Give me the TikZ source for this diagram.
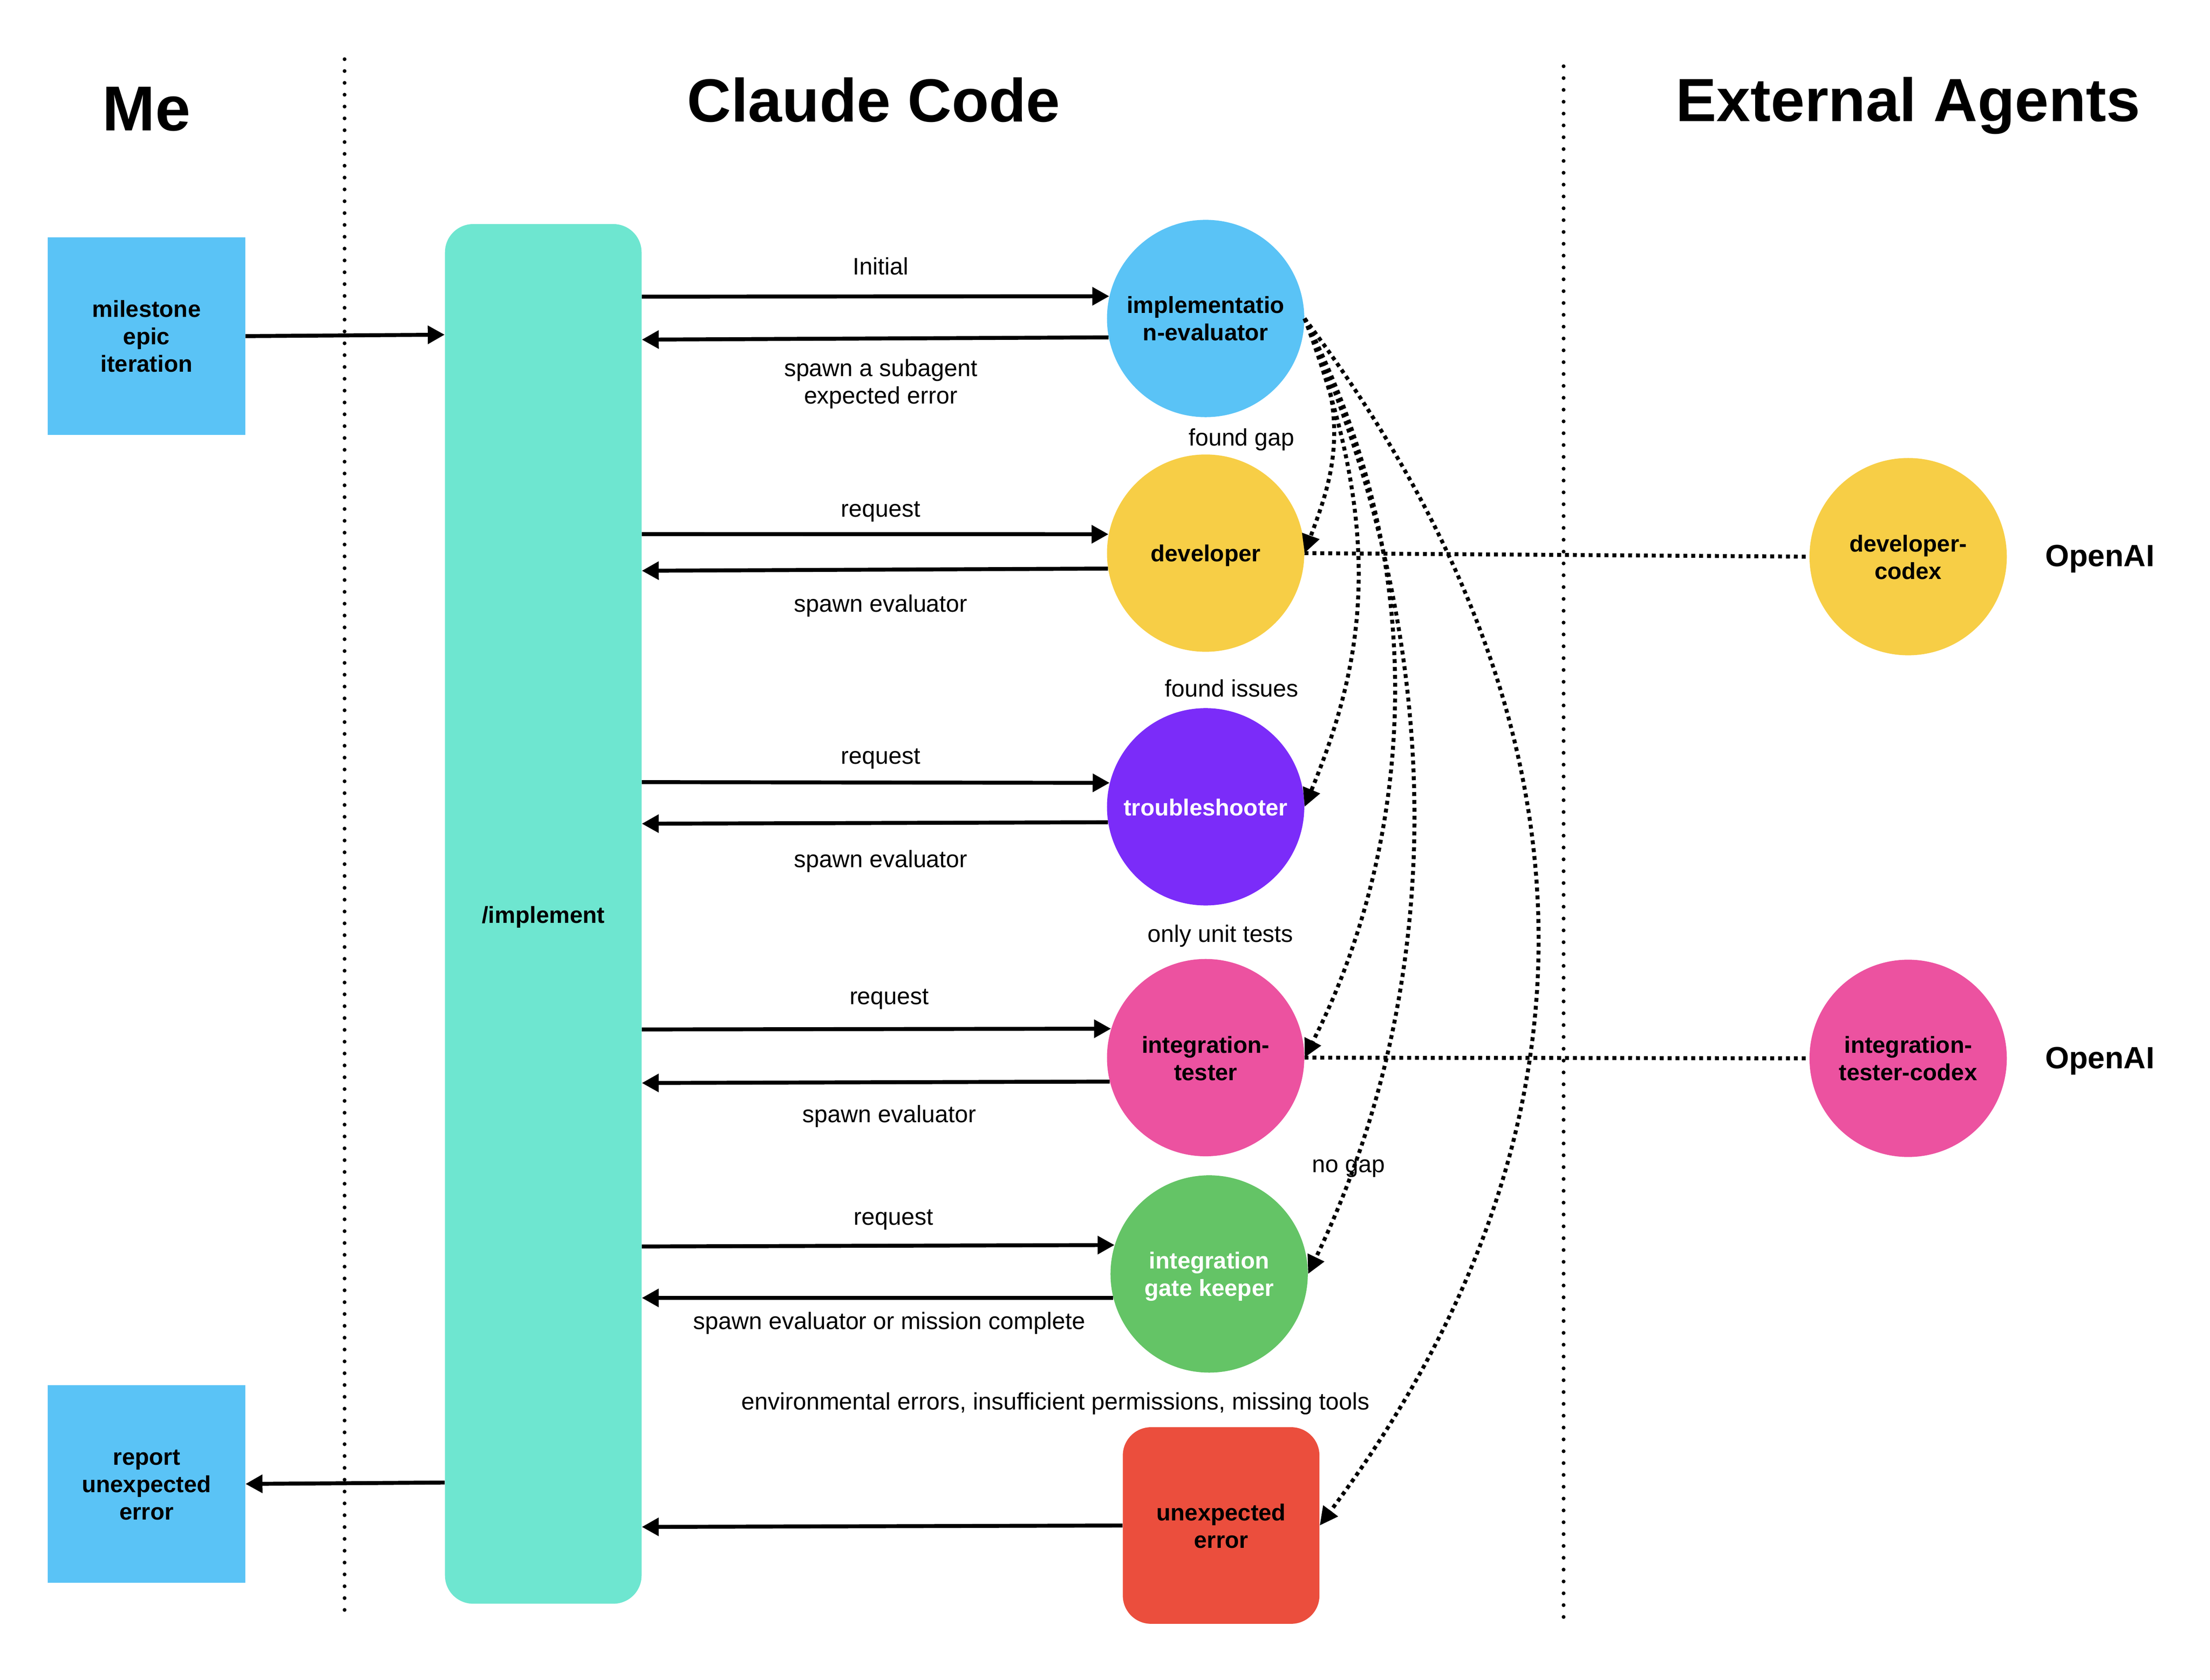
\documentclass[tikz,border=0pt]{standalone}
\usepackage{fontspec}
\setmainfont{Liberation Sans}
\usetikzlibrary{arrows.meta}
\definecolor{cblue}{HTML}{5AC3F6}
\definecolor{cteal}{HTML}{6EE6D0}
\definecolor{cyellow}{HTML}{F7CE46}
\definecolor{cpurple}{HTML}{7B2CF9}
\definecolor{cpink}{HTML}{EC52A0}
\definecolor{cgreen}{HTML}{64C466}
\definecolor{cred}{HTML}{EB4E3D}
\newcommand{\tb}[2]{\raisebox{0pt}[\dimexpr\height+#1pt\relax][\depth]{\begin{tabular}{@{}c@{}}#2\end{tabular}}}
\tikzset{
  circ/.style={circle,minimum size=140pt,inner sep=0pt,align=center,font=\fontsize{16.5}{19.5}\selectfont\bfseries},
  sq/.style={rectangle,minimum size=140pt,inner sep=0pt,align=center,fill=cblue,font=\fontsize{16.5}{19.5}\selectfont\bfseries},
  lab/.style={inner sep=0pt,align=center,font=\fontsize{16.9}{19.5}\selectfont},
  heading/.style={inner sep=0pt,font=\fontsize{43.3}{50}\selectfont\bfseries},
  vendor/.style={inner sep=0pt,font=\fontsize{21.8}{25}\selectfont\bfseries},
  arr/.style={line width=2.8pt,-{Triangle[length=12pt,width=12.5pt]}},
  dotarr/.style={line width=2.8pt,dash pattern=on 2.8pt off 2.8pt,-{Triangle[length=13pt,width=12.5pt]}},
  dotline/.style={line width=2.8pt,dash pattern=on 2.8pt off 2.8pt},
  sep/.style={line width=2.7pt,line cap=round,dash pattern=on 0pt off 8.4pt}
}
\begin{document}
\begin{tikzpicture}[x=1pt,y=-1pt]
\useasboundingbox (0,0) rectangle (1568.2,1192);
\coordinate (sepAtop) at (244.5,42);
\coordinate (sepAbot) at (244.5,1143);
\coordinate (sepBtop) at (1109.5,47);
\coordinate (sepBbot) at (1109.5,1149);
\draw[sep] (sepAtop) -- (sepAbot);
\draw[sep] (sepBtop) -- (sepBbot);
\node[heading,font=\fontsize{45}{50}\selectfont\bfseries] (hme) at (104,77.5) {Me};
\node[heading] (hcc) at (620,71) {Claude Code};
\node[heading] (hext) at (1354,75) {External Agents};
\node[sq] (ms) at (104,238.5) {\tb{4}{milestone\\epic\\iteration}};
\node[sq] (rep) at (104,1053) {\tb{4}{report\\unexpected\\error}};
\node[rectangle,fill=cteal,minimum width=139.5pt,minimum height=979pt,rounded corners=20pt,inner sep=0pt,font=\fontsize{16.5}{19.5}\selectfont\bfseries] (impl) at (385.5,648.5) {\tb{5}{/implement}};
\node[circ,fill=cblue] (eval) at (855.5,226) {\tb{4}{implementatio\\n-evaluator}};
\node[circ,fill=cyellow] (dev) at (855.5,392.5) {\tb{4}{developer}};
\node[circ,fill=cpurple,text=white] (trouble) at (855.5,572.5) {\tb{5}{troubleshooter}};
\node[circ,fill=cpink] (tester) at (855.5,750.5) {\tb{5}{integration-\\tester}};
\node[circ,fill=cgreen,text=white] (gate) at (858,904) {\tb{4}{integration\\gate keeper}};
\node[rectangle,fill=cred,minimum size=139.5pt,rounded corners=20pt,inner sep=0pt,align=center,font=\fontsize{16.5}{19.5}\selectfont\bfseries] (err) at (866.5,1082.5) {\tb{5}{unexpected\\error}};
\node[circ,fill=cyellow] (devc) at (1354,395) {\tb{5}{developer-\\codex}};
\node[circ,fill=cpink] (testc) at (1354,751) {\tb{4}{integration-\\tester-codex}};
\node[vendor] (oa) at (1490,396.5) {OpenAI};
\node[vendor] (ob) at (1490,753) {OpenAI};
\node[lab] (l1) at (625,189) {Initial};
\node[lab] (l2) at (625,272.5) {spawn a subagent\\expected error};
\node[lab] (l3) at (881,312) {found gap};
\node[lab] (l4) at (625,363) {request};
\node[lab] (l5) at (625,430) {spawn evaluator};
\node[lab] (l6) at (874,488.5) {found issues};
\node[lab] (l7) at (625,538.5) {request};
\node[lab] (l8) at (625,611) {spawn evaluator};
\node[lab] (l9) at (866,664) {only unit tests};
\node[lab] (l10) at (631,709) {request};
\node[lab] (l11) at (631,792) {spawn evaluator};
\node[lab] (l12) at (957,829) {no gap};
\node[lab] (l13) at (634,865.5) {request};
\node[lab] (l14) at (631,939) {spawn evaluator or mission complete};
\node[lab] (l15) at (749,996) {environmental errors, insufficient permissions, missing tools};
\draw[arr] (ms.east) -- (impl.west |- 0,237.5);
\draw[arr] (impl.east |- 0,210.5) -- (eval.167.2);
\draw[arr] (eval.191.5) -- (impl.east |- 0,241);
\draw[arr] (impl.east |- 0,379) -- (dev.169.3);
\draw[arr] (dev.189.9) -- (impl.east |- 0,405);
\draw[arr] (impl.east |- 0,555) -- (trouble.166.8);
\draw[arr] (trouble.189.5) -- (impl.east |- 0,584.5);
\draw[arr] (impl.east |- 0,730.5) -- (tester.163.4);
\draw[arr] (tester.194.5) -- (impl.east |- 0,768.5);
\draw[arr] (impl.east |- 0,884.5) -- (gate.163.8);
\draw[arr] (gate.194) -- (impl.east |- 0,921);
\draw[arr] (err.west) -- (impl.east |- 0,1083.5);
\draw[arr] (impl.west |- 0,1052) -- (rep.east);
\draw[dotline] (dev.east) -- (devc.west);
\draw[dotline] (tester.east) -- (testc.west);
\draw[dotarr] (eval.east) .. controls (962,300) and (943,345) .. (dev.east);
\draw[dotarr] (eval.east) .. controls (984,379) and (968,470) .. (trouble.east);
\draw[dotarr] (eval.east) .. controls (1025,420) and (995,615) .. (tester.east);
\draw[dotarr] (eval.east) .. controls (1020,437) and (1036,680) .. (gate.east);
\draw[dotarr] (eval.east) .. controls (1163,542) and (1125,830) .. (err.east);
\end{tikzpicture}
\end{document}
